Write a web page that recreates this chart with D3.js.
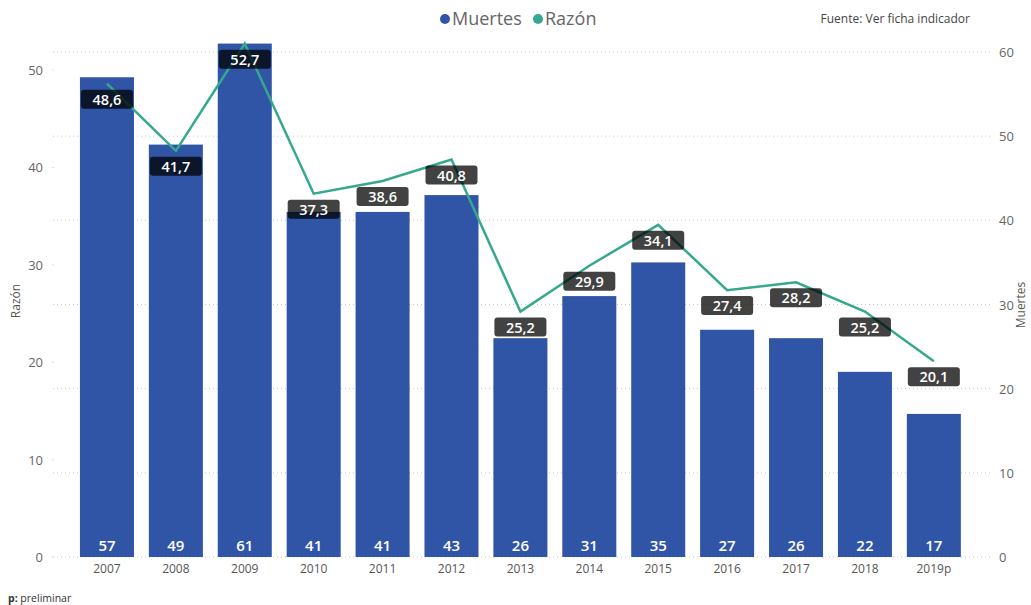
<!DOCTYPE html>
<html>
<head>
<meta charset="utf-8">
<script src="https://cdn.jsdelivr.net/npm/d3@7"></script>
<style>
  body { margin: 0; background: #fff; }
  text { font-family: "Segoe UI", "Open Sans", "Noto Sans", sans-serif; }
</style>
</head>
<body>
<svg id="chart" width="1031" height="605"></svg>
<script>
// chart data
const years = ['2007', '2008', '2009', '2010', '2011', '2012', '2013', '2014', '2015', '2016', '2017', '2018', '2019p'];
const muertes = [57, 49, 61, 41, 41, 43, 26, 31, 35, 27, 26, 22, 17];
const razon = [48.6, 41.7, 52.7, 37.3, 38.6, 40.8, 25.2, 29.9, 34.1, 27.4, 28.2, 25.2, 20.1];
const razonTicks = [0, 10, 20, 30, 40, 50];
const muertesTicks = [0, 10, 20, 30, 40, 50, 60];

const svg = d3.select('#chart');
const blue = '#3155a6', teal = '#35a88e';
const fmt = d => d.toFixed(1).replace('.', ',');

// plot area
const plotTop = 52, plotBottom = 557, gridLeft = 53, gridRight = 990;

const x = d3.scaleBand()
    .domain(years)
    .range([72.5, 968.3])
    .paddingInner(0.216)
    .paddingOuter(0.108);

// right axis: deaths (bars)
const yM = d3.scaleLinear().domain([0, 60]).range([plotBottom, plotTop]);
// left axis: ratio (line)
const yR = d3.scaleLinear().domain([0, 50]).range([plotBottom, 70]);

// dotted gridlines follow the right axis
svg.append('g').selectAll('line')
    .data(muertesTicks)
    .join('line')
        .attr('x1', gridLeft).attr('x2', gridRight)
        .attr('y1', d => yM(d)).attr('y2', d => yM(d))
        .attr('stroke', '#c8c8c8')
        .attr('stroke-dasharray', '1,3');

// left ticks
let left = svg.append('g');
left.selectAll('text')
    .data(razonTicks)
    .join('text')
        .attr('x', 43).attr('y', d => yR(d) + 5)
        .attr('text-anchor', 'end')
        .attr('font-size', 13).attr('fill', '#666')
        .text(d => d);
left.selectAll('circle')
    .data(razonTicks)
    .join('circle')
        .attr('cx', gridLeft).attr('cy', d => yR(d)).attr('r', 0.6)
        .attr('fill', '#bbb');

// right ticks
svg.append('g').selectAll('text')
    .data(muertesTicks)
    .join('text')
        .attr('x', 999).attr('y', d => yM(d) + 5)
        .attr('font-size', 13).attr('fill', '#666')
        .text(d => d);

// axis titles
svg.append('text')
    .attr('transform', 'translate(20,301) rotate(-90)')
    .attr('text-anchor', 'middle')
    .attr('font-size', 12).attr('fill', '#555')
    .text('Razón');
svg.append('text')
    .attr('transform', 'translate(1025,305) rotate(-90)')
    .attr('text-anchor', 'middle')
    .attr('font-size', 12).attr('fill', '#555')
    .text('Muertes');

// bars
svg.append('g').selectAll('rect')
    .data(muertes)
    .join('rect')
        .attr('x', (d, i) => x(years[i]))
        .attr('y', d => yM(d))
        .attr('width', x.bandwidth())
        .attr('height', d => plotBottom - yM(d))
        .attr('fill', blue);

// bar values
svg.append('g').selectAll('text')
    .data(muertes)
    .join('text')
        .attr('x', (d, i) => x(years[i]) + x.bandwidth() / 2)
        .attr('y', 551)
        .attr('text-anchor', 'middle')
        .attr('font-size', 15).attr('font-weight', 600)
        .attr('fill', '#fff')
        .text(d => d);

// x labels
svg.append('g').selectAll('text')
    .data(years)
    .join('text')
        .attr('x', d => x(d) + x.bandwidth() / 2)
        .attr('y', 573)
        .attr('text-anchor', 'middle')
        .attr('font-size', 12).attr('fill', '#555')
        .text(d => d);

// ratio line
const line = d3.line()
    .x((d, i) => x(years[i]) + x.bandwidth() / 2)
    .y(d => yR(d));
svg.append('path')
    .datum(razon)
    .attr('d', line)
    .attr('fill', 'none')
    .attr('stroke', teal)
    .attr('stroke-width', 2.5);

// ratio labels, boxed just below each point
let labels = svg.append('g').selectAll('g')
    .data(razon)
    .join('g')
        .attr('transform', (d, i) => `translate(${x(years[i]) + x.bandwidth() / 2},${yR(d) + 6})`);
labels.append('rect')
    .attr('x', -26).attr('y', 0)
    .attr('width', 52).attr('height', 19)
    .attr('rx', 3)
    .attr('fill', '#000').attr('fill-opacity', 0.74);
labels.append('text')
    .attr('y', 15)
    .attr('text-anchor', 'middle')
    .attr('font-size', 14.5).attr('font-weight', 600)
    .attr('fill', '#fff')
    .text(d => fmt(d));

// legend
let legend = svg.append('g');
legend.append('circle').attr('cx', 445).attr('cy', 19).attr('r', 5).attr('fill', blue);
legend.append('text').attr('x', 452).attr('y', 25).attr('font-size', 18).attr('fill', '#666').text('Muertes');
legend.append('circle').attr('cx', 538).attr('cy', 19).attr('r', 5).attr('fill', teal);
legend.append('text').attr('x', 545).attr('y', 25).attr('font-size', 18).attr('fill', '#666').text('Razón');

svg.append('text')
    .attr('x', 970).attr('y', 23)
    .attr('text-anchor', 'end')
    .attr('font-size', 12).attr('fill', '#444')
    .text('Fuente: Ver ficha indicador');

// footnote
let note = svg.append('text')
    .attr('x', 8).attr('y', 602)
    .attr('font-size', 10.5).attr('fill', '#333');
note.append('tspan').attr('font-weight', 700).text('p:');
note.append('tspan').text(' preliminar');
</script>
</body>
</html>
